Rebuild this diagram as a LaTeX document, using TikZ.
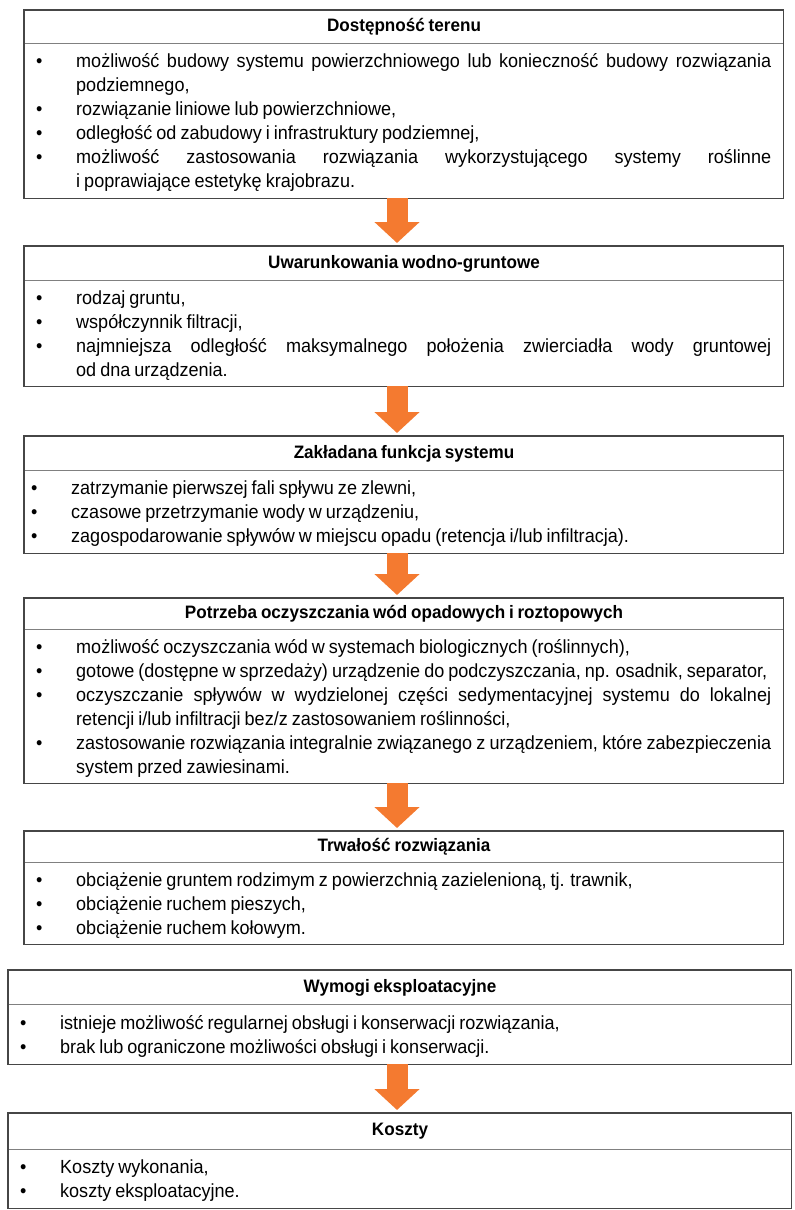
\documentclass[tikz,border=0pt]{standalone}
\usepackage{fontspec}
\setmainfont{Liberation Sans}[FakeStretch=0.95,WordSpace=0.8]
\usetikzlibrary{arrows.meta}
\definecolor{arrorange}{RGB}{244,122,48}
\definecolor{framegray}{RGB}{70,70,70}
\definecolor{sepgray}{RGB}{128,128,128}
\hyphenpenalty=10000
\exhyphenpenalty=10000
\tolerance=9999
\newlength\bulind
\setlength\bulind{40pt}
\newcommand\itm{\par\noindent\hangindent=\bulind\hangafter=1\makebox[\bulind][l]{\textbullet}}
\begin{document}
\begin{tikzpicture}[x=1pt,y=-1pt]
\tikzstyle{hd}=[draw=sepgray,line width=1pt,anchor=north west,minimum width=759pt,inner sep=0pt,font=\fontsize{18}{22}\selectfont\bfseries]
\tikzstyle{bd}=[anchor=north west,text width=735pt,inner xsep=12pt,inner ysep=-3pt,align=justify,font=\fontsize{19}{24}\selectfont,execute at end node={\endgraf\vspace{7pt}}]
\tikzstyle{fr}=[draw=framegray,line width=1.5pt]
\tikzstyle{ar}=[draw=arrorange,line width=21pt,-{Triangle[width=44pt,length=21pt]},shorten >=3pt]
\useasboundingbox (0,0) rectangle (795,1210);
\coordinate (ax) at (397,0);
% Dostepnosc terenu
\node [hd,minimum height=33pt] (h1) at (24,10) {Dostępność terenu};
\node [bd,minimum height=154pt] (b1) at (h1.south west) {%
\itm możliwość budowy systemu powierzchniowego lub konieczność budowy rozwiązania\linebreak podziemnego,
\itm rozwiązanie liniowe lub powierzchniowe,
\itm odległość od zabudowy i infrastruktury podziemnej,
\itm możliwość zastosowania rozwiązania wykorzystującego systemy roślinne\linebreak i poprawiające estetykę krajobrazu.\par};
% Uwarunkowania
\node [hd,minimum height=34pt] (h2) at (24,246) {Uwarunkowania wodno-gruntowe};
\node [bd,minimum height=105pt] (b2) at (h2.south west) {%
\itm rodzaj gruntu,
\itm współczynnik filtracji,
\itm najmniejsza odległość maksymalnego położenia zwierciadła wody gruntowej\linebreak od dna urządzenia.\par};
% Funkcja
\node [hd,minimum height=34pt] (h3) at (24,436) {Zakładana funkcja systemu};
\node [bd,minimum height=82pt] (b3) at (h3.south west) {\leftskip=-5pt
\itm zatrzymanie pierwszej fali spływu ze zlewni,
\itm czasowe przetrzymanie wody w urządzeniu,
\itm zagospodarowanie spływów w miejscu opadu (retencja i/lub infiltracja).\par};
% Oczyszczanie
\node [hd,minimum height=31pt] (h4) at (24,598) {Potrzeba oczyszczania wód opadowych i roztopowych};
\node [bd,minimum height=153pt] (b4) at (h4.south west) {%
\itm możliwość oczyszczania wód w systemach biologicznych (roślinnych),
\itm gotowe (dostępne w sprzedaży) urządzenie do podczyszczania, np. osadnik, separator,
\itm oczyszczanie spływów w wydzielonej części sedymentacyjnej systemu do lokalnej\linebreak retencji i/lub infiltracji bez/z zastosowaniem roślinności,
\itm zastosowanie rozwiązania integralnie związanego z urządzeniem, które zabezpieczenia\linebreak system przed zawiesinami.\par};
% Trwalosc
\node [hd,minimum height=31pt] (h5) at (24,831) {Trwałość rozwiązania};
\node [bd,minimum height=81pt] (b5) at (h5.south west) {%
\itm obciążenie gruntem rodzimym z powierzchnią zazielenioną, tj. trawnik,
\itm obciążenie ruchem pieszych,
\itm obciążenie ruchem kołowym.\par};
% Wymogi
\node [hd,minimum width=783pt,minimum height=34pt] (h6) at (8,970) {Wymogi eksploatacyjne};
\node [bd,text width=759pt,minimum height=59pt] (b6) at (h6.south west) {%
\itm istnieje możliwość regularnej obsługi i konserwacji rozwiązania,
\itm brak lub ograniczone możliwości obsługi i konserwacji.\par};
% Koszty
\node [hd,minimum width=783pt,minimum height=36pt] (h7) at (8,1113) {Koszty};
\node [bd,text width=759pt,minimum height=58pt] (b7) at (h7.south west) {%
\itm Koszty wykonania,
\itm koszty eksploatacyjne.\par};
\draw [fr] (h1.north west) rectangle (b1.south east);
\draw [fr] (h2.north west) rectangle (b2.south east);
\draw [fr] (h3.north west) rectangle (b3.south east);
\draw [fr] (h4.north west) rectangle (b4.south east);
\draw [fr] (h5.north west) rectangle (b5.south east);
\draw [fr] (h6.north west) rectangle (b6.south east);
\draw [fr] (h7.north west) rectangle (b7.south east);
\draw [ar] (b1.south -| ax) -- (h2.north -| ax);
\draw [ar] (b2.south -| ax) -- (h3.north -| ax);
\draw [ar] (b3.south -| ax) -- (h4.north -| ax);
\draw [ar] (b4.south -| ax) -- (h5.north -| ax);
\draw [ar] (b6.south -| ax) -- (h7.north -| ax);
\end{tikzpicture}
\end{document}
